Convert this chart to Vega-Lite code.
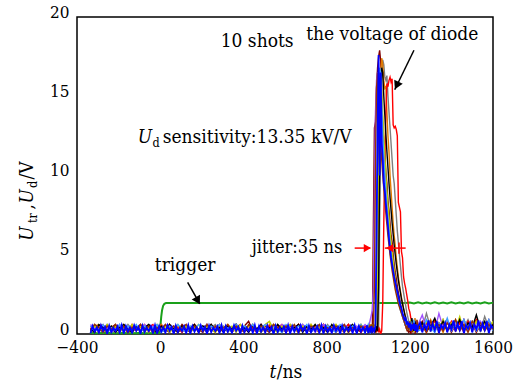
{
"$schema": "https://vega.github.io/schema/vega-lite/v6.json",
"width": 416, "height": 317,
"autosize": {"type": "none"},
"padding": {"left": 77, "top": 17, "right": 32, "bottom": 48},
"config": {"view": {"stroke": "#000000", "strokeWidth": 1.5}},
"datasets": {
"shots": [
{"t":-335,"a":0.3,"b":0.5,"c":0.2,"d":0.4,"e":0.6,"f":0.1,"g":0.3,"h":0.5,"i":0.2,"j":0.05},
{"t":-315,"a":0.6,"b":0.2,"c":0.5,"d":0.1,"e":0.3,"f":0.5,"g":0.1,"h":0.2,"i":0.6,"j":0.15},
{"t":-295,"a":0.1,"b":0.4,"c":0.6,"d":0.5,"e":0.2,"f":0.4,"g":0.6,"h":0.3,"i":0.4,"j":0.1},
{"t":-275,"a":0.5,"b":0.1,"c":0.3,"d":0.6,"e":0.5,"f":0.2,"g":0.4,"h":0.6,"i":0.1,"j":0.2},
{"t":-255,"a":0.2,"b":0.6,"c":0.1,"d":0.2,"e":0.4,"f":0.6,"g":0.2,"h":0.1,"i":0.5,"j":0.02},
{"t":-235,"a":0.4,"b":0.3,"c":0.5,"d":0.3,"e":0.1,"f":0.3,"g":0.5,"h":0.4,"i":0.3,"j":0.12},
{"t":-215,"a":0.6,"b":0.1,"c":0.4,"d":0.5,"e":0.3,"f":0.5,"g":0.1,"h":0.2,"i":0.6,"j":0.18},
{"t":-195,"a":0.2,"b":0.5,"c":0.1,"d":0.2,"e":0.6,"f":0.1,"g":0.4,"h":0.6,"i":0.2,"j":0.08},
{"t":-175,"a":0.5,"b":0.2,"c":0.6,"d":0.4,"e":0.2,"f":0.4,"g":0.6,"h":0.1,"i":0.5,"j":0.05},
{"t":-155,"a":0.1,"b":0.6,"c":0.3,"d":0.1,"e":0.5,"f":0.2,"g":0.3,"h":0.5,"i":0.1,"j":0.15},
{"t":-135,"a":0.4,"b":0.3,"c":0.5,"d":0.6,"e":0.1,"f":0.6,"g":0.1,"h":0.3,"i":0.4,"j":0.1},
{"t":-115,"a":0.3,"b":0.5,"c":0.2,"d":0.3,"e":0.4,"f":0.3,"g":0.5,"h":0.6,"i":0.2,"j":0.2},
{"t":-95,"a":0.6,"b":0.1,"c":0.4,"d":0.5,"e":0.2,"f":0.5,"g":0.2,"h":0.1,"i":0.6,"j":0.02},
{"t":-75,"a":0.2,"b":0.4,"c":0.6,"d":0.2,"e":0.6,"f":0.1,"g":0.4,"h":0.5,"i":0.3,"j":0.12},
{"t":-55,"a":0.5,"b":0.6,"c":0.1,"d":0.4,"e":0.3,"f":0.4,"g":0.6,"h":0.2,"i":0.5,"j":0.18},
{"t":-35,"a":0.1,"b":0.2,"c":0.5,"d":0.6,"e":0.5,"f":0.2,"g":0.3,"h":0.4,"i":0.1,"j":0.08},
{"t":-15,"a":0.4,"b":0.5,"c":0.3,"d":0.1,"e":0.1,"f":0.6,"g":0.1,"h":0.6,"i":0.4,"j":0.05},
{"t":5,"a":0.6,"b":0.3,"c":0.6,"d":0.5,"e":0.4,"f":0.3,"g":0.5,"h":0.1,"i":0.2,"j":0.15},
{"t":25,"a":0.3,"b":0.1,"c":0.2,"d":0.3,"e":0.6,"f":0.5,"g":0.2,"h":0.3,"i":0.6,"j":0.1},
{"t":45,"a":0.1,"b":0.6,"c":0.4,"d":0.6,"e":0.2,"f":0.1,"g":0.6,"h":0.5,"i":0.3,"j":0.2},
{"t":65,"a":0.5,"b":0.2,"c":0.1,"d":0.2,"e":0.5,"f":0.4,"g":0.3,"h":0.2,"i":0.5,"j":0.02},
{"t":85,"a":0.2,"b":0.4,"c":0.5,"d":0.4,"e":0.1,"f":0.6,"g":0.1,"h":0.6,"i":0.1,"j":0.12},
{"t":105,"a":0.6,"b":0.1,"c":0.3,"d":0.1,"e":0.4,"f":0.2,"g":0.5,"h":0.3,"i":0.4,"j":0.18},
{"t":125,"a":0.3,"b":0.5,"c":0.6,"d":0.5,"e":0.6,"f":0.5,"g":0.2,"h":0.1,"i":0.6,"j":0.08},
{"t":145,"a":0.1,"b":0.3,"c":0.2,"d":0.3,"e":0.2,"f":0.1,"g":0.4,"h":0.5,"i":0.2,"j":0.05},
{"t":165,"a":0.4,"b":0.6,"c":0.5,"d":0.6,"e":0.5,"f":0.4,"g":0.6,"h":0.2,"i":0.5,"j":0.15},
{"t":185,"a":0.2,"b":0.2,"c":0.1,"d":0.2,"e":0.3,"f":0.6,"g":0.1,"h":0.6,"i":0.3,"j":0.1},
{"t":205,"a":0.5,"b":0.5,"c":0.4,"d":0.4,"e":0.1,"f":0.2,"g":0.5,"h":0.4,"i":0.1,"j":0.2},
{"t":225,"a":0.1,"b":0.1,"c":0.6,"d":0.1,"e":0.6,"f":0.5,"g":0.3,"h":0.1,"i":0.6,"j":0.02},
{"t":245,"a":0.6,"b":0.4,"c":0.3,"d":0.5,"e":0.2,"f":0.3,"g":0.6,"h":0.5,"i":0.2,"j":0.12},
{"t":265,"a":0.3,"b":0.6,"c":0.1,"d":0.3,"e":0.4,"f":0.1,"g":0.2,"h":0.3,"i":0.5,"j":0.18},
{"t":285,"a":0.5,"b":0.2,"c":0.5,"d":0.6,"e":0.6,"f":0.6,"g":0.4,"h":0.6,"i":0.1,"j":0.08},
{"t":305,"a":0.2,"b":0.5,"c":0.2,"d":0.2,"e":0.1,"f":0.4,"g":0.1,"h":0.2,"i":0.4,"j":0.05},
{"t":325,"a":0.4,"b":0.1,"c":0.6,"d":0.5,"e":0.5,"f":0.2,"g":0.5,"h":0.4,"i":0.6,"j":0.15},
{"t":345,"a":0.1,"b":0.4,"c":0.3,"d":0.1,"e":0.3,"f":0.5,"g":0.3,"h":0.1,"i":0.2,"j":0.1},
{"t":365,"a":0.6,"b":0.6,"c":0.5,"d":0.4,"e":0.6,"f":0.1,"g":0.6,"h":0.6,"i":0.5,"j":0.2},
{"t":385,"a":0.3,"b":0.2,"c":0.1,"d":0.6,"e":0.2,"f":0.6,"g":0.2,"h":0.3,"i":0.3,"j":0.02},
{"t":405,"a":0.5,"b":0.5,"c":0.4,"d":0.2,"e":0.4,"f":0.3,"g":0.4,"h":0.5,"i":0.1,"j":0.12},
{"t":425,"a":0.8,"b":0.3,"c":0.2,"d":0.5,"e":0.1,"f":0.5,"g":0.1,"h":0.2,"i":0.6,"j":0.18},
{"t":445,"a":0.2,"b":0.6,"c":0.6,"d":0.3,"e":0.5,"f":0.2,"g":0.5,"h":0.6,"i":0.4,"j":0.08},
{"t":465,"a":0.4,"b":0.1,"c":0.3,"d":0.1,"e":0.2,"f":0.4,"g":0.3,"h":0.1,"i":0.2,"j":0.05},
{"t":485,"a":0.1,"b":0.4,"c":0.5,"d":0.6,"e":0.6,"f":0.1,"g":0.6,"h":0.4,"i":0.5,"j":0.15},
{"t":505,"a":0.5,"b":0.2,"c":0.1,"d":0.3,"e":0.3,"f":0.6,"g":0.2,"h":0.6,"i":0.3,"j":0.1},
{"t":525,"a":0.3,"b":0.5,"c":0.6,"d":0.5,"e":0.1,"f":0.8,"g":0.4,"h":0.2,"i":0.1,"j":0.2},
{"t":545,"a":0.6,"b":0.3,"c":0.2,"d":0.2,"e":0.5,"f":0.3,"g":0.1,"h":0.5,"i":0.6,"j":0.02},
{"t":565,"a":0.2,"b":0.6,"c":0.4,"d":0.4,"e":0.2,"f":0.1,"g":0.6,"h":0.3,"i":0.4,"j":0.12},
{"t":585,"a":0.4,"b":0.1,"c":0.5,"d":0.6,"e":0.6,"f":0.5,"g":0.3,"h":0.1,"i":0.2,"j":0.18},
{"t":605,"a":0.1,"b":0.4,"c":0.2,"d":0.1,"e":0.4,"f":0.2,"g":0.5,"h":0.6,"i":0.5,"j":0.08},
{"t":625,"a":0.5,"b":0.2,"c":0.6,"d":0.5,"e":0.1,"f":0.6,"g":0.2,"h":0.4,"i":0.3,"j":0.05},
{"t":645,"a":0.3,"b":0.5,"c":0.3,"d":0.3,"e":0.5,"f":0.4,"g":0.4,"h":0.2,"i":0.6,"j":0.15},
{"t":665,"a":0.6,"b":0.3,"c":0.1,"d":0.6,"e":0.3,"f":0.1,"g":0.6,"h":0.5,"i":0.1,"j":0.1},
{"t":685,"a":0.2,"b":0.6,"c":0.5,"d":0.2,"e":0.6,"f":0.5,"g":0.1,"h":0.3,"i":0.4,"j":0.2},
{"t":705,"a":0.4,"b":0.1,"c":0.2,"d":0.4,"e":0.2,"f":0.3,"g":0.5,"h":0.6,"i":0.2,"j":0.02},
{"t":725,"a":0.1,"b":0.4,"c":0.6,"d":0.1,"e":0.5,"f":0.6,"g":0.3,"h":0.1,"i":0.5,"j":0.12},
{"t":745,"a":0.5,"b":0.2,"c":0.3,"d":0.5,"e":0.1,"f":0.2,"g":0.6,"h":0.4,"i":0.3,"j":0.18},
{"t":765,"a":0.3,"b":0.5,"c":0.1,"d":0.3,"e":0.4,"f":0.4,"g":0.2,"h":0.6,"i":0.6,"j":0.08},
{"t":785,"a":0.6,"b":0.3,"c":0.5,"d":0.6,"e":0.6,"f":0.1,"g":0.4,"h":0.2,"i":0.1,"j":0.05},
{"t":805,"a":0.2,"b":0.6,"c":0.2,"d":0.2,"e":0.3,"f":0.5,"g":0.1,"h":0.5,"i":0.4,"j":0.15},
{"t":825,"a":0.4,"b":0.1,"c":0.4,"d":0.4,"e":0.1,"f":0.3,"g":0.6,"h":0.3,"i":0.2,"j":0.1},
{"t":845,"a":0.1,"b":0.4,"c":0.6,"d":0.1,"e":0.5,"f":0.6,"g":0.3,"h":0.1,"i":0.5,"j":0.2},
{"t":865,"a":0.5,"b":0.2,"c":0.3,"d":0.5,"e":0.2,"f":0.2,"g":0.5,"h":0.6,"i":0.3,"j":0.02},
{"t":885,"a":0.3,"b":0.5,"c":0.1,"d":0.3,"e":0.6,"f":0.4,"g":0.2,"h":0.4,"i":0.6,"j":0.12},
{"t":905,"a":0.6,"b":0.3,"c":0.5,"d":0.6,"e":0.4,"f":0.1,"g":0.4,"h":0.2,"i":0.1,"j":0.18},
{"t":925,"a":0.2,"b":0.6,"c":0.2,"d":0.2,"e":0.1,"f":0.5,"g":0.6,"h":0.5,"i":0.4,"j":0.08},
{"t":945,"a":0.4,"b":0.1,"c":0.4,"d":0.4,"e":0.5,"f":0.3,"g":0.1,"h":0.3,"i":0.2,"j":0.05},
{"t":965,"a":0.1,"b":0.4,"c":0.6,"d":0.1,"e":0.3,"f":0.6,"g":0.5,"h":0.6,"i":0.5,"j":0.15},
{"t":985,"a":0.5,"b":0.2,"c":0.3,"d":0.5,"e":0.6,"f":0.2,"g":0.3,"h":0.1,"i":0.3,"j":0.1},
{"t":1000,"a":0.3,"b":0.2,"c":0.5,"d":0.4,"e":0.4,"f":0.2,"g":0.3,"h":0.6,"i":0.2,"j":0.05},
{"t":1005,"a":0.5,"b":0.4,"c":0.2,"d":0.1,"e":0.6,"f":0.5,"g":0.1,"h":0.3,"i":0.5,"j":0.4},
{"t":1010,"a":0.2,"b":0.6,"c":0.4,"d":0.5,"e":0.9,"f":0.3,"g":0.5,"h":0.1,"i":0.3,"j":0.2},
{"t":1015,"a":0.4,"b":0.1,"c":0.6,"d":0.3,"e":1.2,"f":0.1,"g":0.2,"h":0.4,"i":0.6,"j":0.5},
{"t":1020,"a":0.3,"b":0.5,"c":0.1,"d":0.2,"e":1.5,"f":0.6,"g":0.4,"h":0.2,"i":0.1,"j":0.05},
{"t":1025,"a":7,"b":0.3,"c":0.3,"d":0.6,"e":3,"f":0.4,"g":0.6,"h":0.5,"i":0.4,"j":0.4},
{"t":1030,"a":13,"b":0.2,"c":0.5,"d":0.1,"e":9,"f":0.2,"g":0.3,"h":0.3,"i":3,"j":0.2},
{"t":1035,"a":13.4,"b":0.5,"c":0.2,"d":0.4,"e":14,"f":0.5,"g":0.1,"h":0.6,"i":11,"j":0.5},
{"t":1040,"a":15.5,"b":0.4,"c":0.4,"d":0.2,"e":16,"f":0.3,"g":0.5,"h":4,"i":15.5,"j":6},
{"t":1045,"a":16.8,"b":0.2,"c":0.3,"d":0.5,"e":16.5,"f":5,"g":0.2,"h":11,"i":16.5,"j":13},
{"t":1050,"a":17.5,"b":0.3,"c":8,"d":0.1,"e":16.2,"f":12,"g":3,"h":15,"i":13,"j":17.6},
{"t":1055,"a":17.9,"b":7,"c":14,"d":0.3,"e":15,"f":15.5,"g":10,"h":16.8,"i":10.2,"j":10},
{"t":1060,"a":17.2,"b":13,"c":16.5,"d":0,"e":13.5,"f":16,"g":15,"h":16.5,"i":12,"j":16.5},
{"t":1065,"a":15,"b":16,"c":17.4,"d":0.2,"e":12.5,"f":15.2,"g":16.8,"h":14.5,"i":11,"j":12},
{"t":1070,"a":13,"b":17.3,"c":17,"d":2,"e":11.5,"f":13.8,"g":16.5,"h":12.5,"i":10,"j":11},
{"t":1075,"a":12.2,"b":17,"c":16,"d":7,"e":10.5,"f":12.5,"g":15,"h":11.2,"i":9.2,"j":9.5},
{"t":1080,"a":11.5,"b":16.2,"c":15.5,"d":11,"e":9.6,"f":11.2,"g":13.8,"h":10,"i":8.4,"j":9},
{"t":1085,"a":10.2,"b":16,"c":15.6,"d":14,"e":8.8,"f":10,"g":12.6,"h":9,"i":7.6,"j":8.2},
{"t":1090,"a":9.5,"b":16.3,"c":14,"d":15.8,"e":8,"f":9,"g":11.5,"h":8,"i":6.9,"j":7.5},
{"t":1095,"a":8.4,"b":15,"c":12.5,"d":15.6,"e":7.2,"f":8.1,"g":10.5,"h":7.2,"i":6.2,"j":6.8},
{"t":1100,"a":7.8,"b":14,"c":11.5,"d":16,"e":6.5,"f":7.3,"g":9.5,"h":6.4,"i":5.6,"j":6},
{"t":1105,"a":7,"b":13,"c":10,"d":16.2,"e":5.8,"f":6.5,"g":8.6,"h":5.7,"i":5,"j":5.4},
{"t":1110,"a":6.2,"b":12,"c":9,"d":15.9,"e":5.2,"f":5.8,"g":7.8,"h":5.1,"i":4.5,"j":4.8},
{"t":1115,"a":5.8,"b":11,"c":8,"d":16.1,"e":4.6,"f":5.2,"g":7,"h":4.5,"i":4,"j":4.4},
{"t":1120,"a":5,"b":10,"c":7,"d":13.2,"e":4.1,"f":4.6,"g":6.3,"h":4,"i":3.6,"j":4},
{"t":1125,"a":4.4,"b":9.5,"c":6.2,"d":13,"e":3.6,"f":4,"g":5.6,"h":3.5,"i":3.2,"j":3.6},
{"t":1130,"a":3.9,"b":8.5,"c":5.6,"d":13.1,"e":3.2,"f":3.5,"g":5,"h":3.1,"i":2.8,"j":3.3},
{"t":1135,"a":3.5,"b":7.5,"c":4.8,"d":12.9,"e":2.8,"f":3,"g":4.4,"h":2.7,"i":2.5,"j":3},
{"t":1140,"a":3,"b":6.5,"c":4.2,"d":12.5,"e":2.5,"f":2.6,"g":3.9,"h":2.4,"i":2.2,"j":2.7},
{"t":1145,"a":2.6,"b":5.8,"c":3.6,"d":8.3,"e":2.2,"f":2.3,"g":3.4,"h":2.1,"i":1.9,"j":2.4},
{"t":1150,"a":2.3,"b":5,"c":3.1,"d":8,"e":1.9,"f":2,"g":3,"h":1.8,"i":1.7,"j":2.1},
{"t":1155,"a":1.9,"b":4.3,"c":2.7,"d":7.7,"e":1.6,"f":1.7,"g":2.6,"h":1.5,"i":1.5,"j":1.8},
{"t":1160,"a":1.6,"b":3.6,"c":2.3,"d":5.2,"e":1.4,"f":1.4,"g":2.2,"h":1.3,"i":1.3,"j":1.6},
{"t":1165,"a":1.2,"b":3,"c":2,"d":4.8,"e":1.1,"f":1.2,"g":1.9,"h":1.1,"i":1.1,"j":1.3},
{"t":1170,"a":1,"b":2.6,"c":1.6,"d":3.6,"e":0.9,"f":1,"g":1.6,"h":0.9,"i":0.9,"j":1.1},
{"t":1175,"a":0.7,"b":2.2,"c":1.3,"d":3.2,"e":0.7,"f":0.8,"g":1.3,"h":0.7,"i":0.7,"j":0.9},
{"t":1180,"a":0.5,"b":1.8,"c":1,"d":2.9,"e":0.5,"f":0.6,"g":1,"h":0.5,"i":0.5,"j":1},
{"t":1185,"a":0.3,"b":1.4,"c":0.8,"d":2.5,"e":0.8,"f":0.4,"g":0.8,"h":0.9,"i":0.3,"j":0.6},
{"t":1190,"a":0.2,"b":1.1,"c":0.6,"d":2.1,"e":0.3,"f":0.7,"g":0.6,"h":0.3,"i":0.6,"j":0.8},
{"t":1195,"a":0.1,"b":0.8,"c":0.5,"d":1.6,"e":0.6,"f":0.2,"g":0.4,"h":0.7,"i":0.2,"j":0.4},
{"t":1200,"a":0.3,"b":0.6,"c":0.3,"d":1.4,"e":0.2,"f":0.5,"g":0.7,"h":0.4,"i":0.8,"j":0.7},
{"t":1205,"a":0,"b":0.4,"c":0.7,"d":1,"e":0.9,"f":0.9,"g":0.3,"h":0.8,"i":0.4,"j":0.2},
{"t":1210,"a":0.4,"b":0.8,"c":0.2,"d":0.7,"e":0.4,"f":0.3,"g":1,"h":0.2,"i":0.1,"j":0.6},
{"t":1215,"a":0.1,"b":0.3,"c":0.8,"d":0.4,"e":0.7,"f":0.6,"g":0.5,"h":0.6,"i":0.7,"j":0.3},
{"t":1220,"a":0.6,"b":0.7,"c":0.4,"d":0.6,"e":0.1,"f":0.1,"g":0.2,"h":0.9,"i":0.3,"j":0.7},
{"t":1225,"a":0,"b":0.2,"c":1,"d":0.2,"e":0.5,"f":0.7,"g":0.8,"h":0.3,"i":0.6,"j":0.2},
{"t":1230,"a":0.5,"b":0.9,"c":0.3,"d":0.8,"e":0.8,"f":0.4,"g":0.4,"h":0.5,"i":0.2,"j":0.6},
{"t":1235,"a":0.2,"b":0.4,"c":0.6,"d":0.3,"e":0.2,"f":0.2,"g":0.6,"h":0.7,"i":0.9,"j":0.1},
{"t":1240,"a":0.4,"b":0.6,"c":0.2,"d":0.5,"e":0.6,"f":0.5,"g":0.3,"h":0.2,"i":0.4,"j":0.5},
{"t":1260,"a":0.8,"b":0.3,"c":0.6,"d":0.2,"e":1.2,"f":0.4,"g":0.7,"h":0.3,"i":0.5,"j":0.1},
{"t":1280,"a":0.1,"b":1.3,"c":0.2,"d":0.7,"e":0.3,"f":0.8,"g":0.2,"h":0.9,"i":0.1,"j":0.3},
{"t":1300,"a":0.6,"b":0.4,"c":0.9,"d":0.3,"e":0.7,"f":0.2,"g":0.5,"h":0.4,"i":0.8,"j":0.15},
{"t":1320,"a":0.2,"b":0.8,"c":0.3,"d":0.9,"e":0.2,"f":0.6,"g":1,"h":0.1,"i":0.3,"j":0.25},
{"t":1340,"a":0.7,"b":0.2,"c":0.7,"d":0.1,"e":1.3,"f":0.3,"g":0.3,"h":0.7,"i":0.6,"j":0.05},
{"t":1360,"a":0.3,"b":0.9,"c":0.1,"d":0.6,"e":0.4,"f":0.9,"g":0.8,"h":0.3,"i":0.2,"j":0.35},
{"t":1380,"a":0.8,"b":0.3,"c":0.8,"d":0.3,"e":0.8,"f":0.2,"g":0.2,"h":1,"i":0.7,"j":0.1},
{"t":1400,"a":0.1,"b":0.7,"c":0.4,"d":0.8,"e":0.2,"f":0.7,"g":0.6,"h":0.2,"i":0.3,"j":0.3},
{"t":1420,"a":0.6,"b":0.2,"c":0.9,"d":0.2,"e":0.6,"f":0.3,"g":0.3,"h":0.8,"i":0.9,"j":0.15},
{"t":1440,"a":0.3,"b":0.8,"c":0.2,"d":0.7,"e":0.3,"f":1.1,"g":0.9,"h":0.4,"i":0.2,"j":0.25},
{"t":1460,"a":0.9,"b":0.4,"c":0.6,"d":0.1,"e":0.9,"f":0.2,"g":0.2,"h":0.9,"i":0.6,"j":0.05},
{"t":1480,"a":0.2,"b":0.9,"c":0.3,"d":0.8,"e":0.2,"f":0.6,"g":0.7,"h":0.3,"i":0.1,"j":0.35},
{"t":1500,"a":0.7,"b":0.3,"c":0.8,"d":0.4,"e":0.7,"f":0.3,"g":0.4,"h":0.8,"i":0.8,"j":0.1},
{"t":1520,"a":0.1,"b":0.8,"c":0.2,"d":0.9,"e":0.3,"f":0.8,"g":1.2,"h":0.2,"i":0.4,"j":0.3},
{"t":1540,"a":0.6,"b":0.2,"c":0.7,"d":0.3,"e":0.8,"f":0.2,"g":0.3,"h":0.7,"i":0.7,"j":0.15},
{"t":1560,"a":0.3,"b":1.1,"c":0.3,"d":0.7,"e":0.4,"f":0.7,"g":0.8,"h":0.3,"i":0.2,"j":0.25},
{"t":1580,"a":0.8,"b":0.4,"c":0.9,"d":0.2,"e":0.9,"f":0.3,"g":0.2,"h":0.9,"i":0.6,"j":0.05},
{"t":1600,"a":0.2,"b":0.8,"c":0.3,"d":0.6,"e":0.3,"f":0.8,"g":0.6,"h":0.2,"i":0.3,"j":0.35},
{"t":-325,"j":0.5},{"t":-305,"j":0.42},{"t":-285,"j":0.55},{"t":-265,"j":0.45},{"t":-245,"j":0.52},{"t":-225,"j":0.4},{"t":-205,"j":0.48},{"t":-185,"j":0.55},
{"t":-165,"j":0.5},{"t":-145,"j":0.42},{"t":-125,"j":0.55},{"t":-105,"j":0.45},{"t":-85,"j":0.52},{"t":-65,"j":0.4},{"t":-45,"j":0.48},{"t":-25,"j":0.55},
{"t":-5,"j":0.5},{"t":15,"j":0.42},{"t":35,"j":0.55},{"t":55,"j":0.45},{"t":75,"j":0.52},{"t":95,"j":0.4},{"t":115,"j":0.48},{"t":135,"j":0.55},
{"t":155,"j":0.5},{"t":175,"j":0.42},{"t":195,"j":0.55},{"t":215,"j":0.45},{"t":235,"j":0.52},{"t":255,"j":0.4},{"t":275,"j":0.48},{"t":295,"j":0.55},
{"t":315,"j":0.5},{"t":335,"j":0.42},{"t":355,"j":0.55},{"t":375,"j":0.45},{"t":395,"j":0.52},{"t":415,"j":0.4},{"t":435,"j":0.48},{"t":455,"j":0.55},
{"t":475,"j":0.5},{"t":495,"j":0.42},{"t":515,"j":0.55},{"t":535,"j":0.45},{"t":555,"j":0.52},{"t":575,"j":0.4},{"t":595,"j":0.48},{"t":615,"j":0.55},
{"t":635,"j":0.5},{"t":655,"j":0.42},{"t":675,"j":0.55},{"t":695,"j":0.45},{"t":715,"j":0.52},{"t":735,"j":0.4},{"t":755,"j":0.48},{"t":775,"j":0.55},
{"t":795,"j":0.5},{"t":815,"j":0.42},{"t":835,"j":0.55},{"t":855,"j":0.45},{"t":875,"j":0.52},{"t":895,"j":0.4},{"t":915,"j":0.48},{"t":935,"j":0.55},
{"t":955,"j":0.5},{"t":975,"j":0.42},{"t":995,"j":0.55},
{"t":1250,"j":0.7},{"t":1270,"j":0.6},{"t":1290,"j":0.85},{"t":1310,"j":0.65},{"t":1330,"j":0.8},{"t":1350,"j":0.55},
{"t":1370,"j":0.7},{"t":1390,"j":0.6},{"t":1410,"j":0.85},{"t":1430,"j":0.65},{"t":1450,"j":0.8},{"t":1470,"j":0.55},
{"t":1490,"j":0.7},{"t":1510,"j":0.6},{"t":1530,"j":0.85},{"t":1550,"j":0.65},{"t":1570,"j":0.8},{"t":1590,"j":0.55}
],
"trig": [
{"t":-335,"v":0.06},{"t":-300,"v":0.05},{"t":-260,"v":0.08},{"t":-220,"v":0.05},{"t":-180,"v":0.07},{"t":-140,"v":0.04},{"t":-100,"v":0.07},{"t":-60,"v":0.05},{"t":-20,"v":0.07},{"t":-3,"v":0.08},{"t":1,"v":0.5},{"t":5,"v":1.1},{"t":9,"v":1.5},{"t":14,"v":1.78},{"t":20,"v":1.9},{"t":28,"v":1.95},{"t":60,"v":1.96},{"t":150,"v":1.95},{"t":300,"v":1.96},{"t":500,"v":1.95},{"t":700,"v":1.96},{"t":900,"v":1.95},{"t":1100,"v":1.96},{"t":1180,"v":1.95},{"t":1200,"v":1.99},{"t":1220,"v":1.92},{"t":1240,"v":2.0},{"t":1260,"v":1.93},{"t":1280,"v":1.99},{"t":1300,"v":1.92},{"t":1320,"v":2.0},{"t":1340,"v":1.93},{"t":1360,"v":1.99},{"t":1380,"v":1.92},{"t":1400,"v":2.0},{"t":1420,"v":1.93},{"t":1440,"v":1.99},{"t":1460,"v":1.92},{"t":1480,"v":2.0},{"t":1500,"v":1.93},{"t":1520,"v":1.99},{"t":1540,"v":1.92},{"t":1560,"v":2.0},{"t":1580,"v":1.93},{"t":1600,"v":1.98}
]
},
"encoding": {
"x": {"field": "t", "type": "quantitative", "scale": {"domain": [-400, 1600], "nice": false, "zero": false},
 "axis": {"values": [-400, 0, 400, 800, 1200, 1600], "format": "d", "title": null, "grid": false, "domain": false, "ticks": false, "labelFont": "DejaVu Serif Condensed, DejaVu Serif", "labelFontSize": 17, "labelColor": "#000000", "labelPadding": 5, "labelFlush": false, "labelOverlap": false}},
"y": {"field": "v", "type": "quantitative", "scale": {"domain": [0, 20], "nice": false, "zero": false},
 "axis": {"values": [0, 5, 10, 15, 20], "format": "d", "title": null, "grid": false, "domain": false, "ticks": false, "labelFont": "DejaVu Serif Condensed, DejaVu Serif", "labelFontSize": 17, "labelColor": "#000000", "labelPadding": 8, "labelOffset": -5, "labelFlush": false, "labelOverlap": false}}
},
"layer": [
{"data": {"name": "trig"}, "mark": {"type": "line", "color": "#1aa01a", "strokeWidth": 2}, "encoding": {}},
{"data": {"name": "shots"}, "transform": [{"fold": ["a","b","c","d","e","f","g","h","i","j"], "as": ["shot", "v"]}, {"filter": "datum.shot !== 'j' && isValid(datum.v)"}],
 "mark": {"type": "line", "strokeWidth": 1.4, "clip": true},
 "encoding": {"color": {"field": "shot", "type": "nominal", "scale": {"domain": ["a","b","c","d","e","f","g","h","i"], "range": ["#800000","#7f7f7f","#e07b00","#ff0000","#a050ff","#bfd000","#000000","#40a0ff","#993300"]}, "legend": null}}},
{"data": {"name": "shots"}, "transform": [{"fold": ["a","b","c","d","e","f","g","h","i","j"], "as": ["shot", "v"]}, {"filter": "datum.shot === 'j' && isValid(datum.v)"}],
 "mark": {"type": "line", "strokeWidth": 1.8, "color": "#0000ff", "clip": true}, "encoding": {}},
{"data": {"values": [{"t": 1220, "v": 17.9, "t2": 1127.5, "v2": 15.41}, {"t": 132, "v": 3.26, "t2": 190, "v2": 1.91}]},
 "mark": {"type": "rule", "color": "#000000", "strokeWidth": 1.5},
 "encoding": {"x2": {"field": "t2"}, "y2": {"field": "v2"}}},
{"data": {"values": [{"t": 1137, "v": 15.68}]}, "mark": {"type": "point", "shape": "triangle-up", "filled": true, "color": "#000000", "size": 90, "angle": 206, "opacity": 1}, "encoding": {}},
{"data": {"values": [{"t": 181, "v": 2.1}]}, "mark": {"type": "point", "shape": "triangle-up", "filled": true, "color": "#000000", "size": 90, "angle": 151, "opacity": 1}, "encoding": {}},
{"data": {"values": [{"t": 935, "v": 5.42, "t2": 1010, "v2": 5.42}, {"t": 1180, "v": 5.42, "t2": 1080, "v2": 5.42}, {"t": 1148, "v": 5.77, "t2": 1148, "v2": 5.07}]},
 "mark": {"type": "rule", "color": "#ff0000", "strokeWidth": 1.5},
 "encoding": {"x2": {"field": "t2"}, "y2": {"field": "v2"}}},
{"data": {"values": [{"t": 996, "v": 5.42}]}, "mark": {"type": "point", "shape": "triangle-right", "filled": true, "color": "#ff0000", "size": 70, "opacity": 1}, "encoding": {}},
{"data": {"values": [{"t": 1103, "v": 5.42}]}, "mark": {"type": "point", "shape": "triangle-left", "filled": true, "color": "#ff0000", "size": 70, "opacity": 1}, "encoding": {}},
{"data": {"values": [{"t": 466, "v": 18.12, "label": "10 shots"}, {"t": 1115.5, "v": 18.57, "label": "the voltage of diode"}, {"t": 120, "v": 3.96, "label": "trigger"}]},
 "mark": {"type": "text", "font": "DejaVu Serif Condensed, DejaVu Serif", "fontSize": 19, "align": "center", "baseline": "alphabetic", "color": "#000000"},
 "encoding": {"text": {"field": "label"}}},
{"data": {"values": [{"t": 440, "v": 5.09, "label": "jitter:35 ns"}]},
 "mark": {"type": "text", "font": "DejaVu Serif Condensed, DejaVu Serif", "fontSize": 18, "align": "left", "baseline": "alphabetic", "color": "#000000"},
 "encoding": {"text": {"field": "label"}}},
{"data": {"values": [{"t": 12, "v": 12.02, "label": "sensitivity:13.35 kV/V"}, {"t": 560, "v": -2.76, "label": "/ns"}]},
 "mark": {"type": "text", "font": "DejaVu Serif Condensed, DejaVu Serif", "fontSize": 19, "align": "left", "baseline": "alphabetic", "color": "#000000"},
 "encoding": {"text": {"field": "label"}}},
{"data": {"values": [{"t": -108, "v": 12.02, "label": "U"}, {"t": 526, "v": -2.76, "label": "t"}]},
 "mark": {"type": "text", "font": "DejaVu Serif Condensed, DejaVu Serif", "fontSize": 19, "fontStyle": "italic", "align": "left", "baseline": "alphabetic", "color": "#000000"},
 "encoding": {"text": {"field": "label"}}},
{"data": {"values": [{"t": -36.5, "v": 11.8, "label": "d"}]},
 "mark": {"type": "text", "font": "DejaVu Serif Condensed, DejaVu Serif", "fontSize": 12.5, "align": "left", "baseline": "alphabetic", "color": "#000000"},
 "encoding": {"text": {"field": "label"}}},
{"data": {"values": [{"t": -610, "v": 5.89, "label": "U"}, {"t": -610, "v": 8.23, "label": "U"}]},
 "mark": {"type": "text", "font": "DejaVu Serif Condensed, DejaVu Serif", "fontSize": 19, "fontStyle": "italic", "align": "left", "baseline": "alphabetic", "angle": 270, "color": "#000000"},
 "encoding": {"text": {"field": "label"}}},
{"data": {"values": [{"t": -610, "v": 7.85, "label": ","}, {"t": -610, "v": 9.75, "label": "/V"}]},
 "mark": {"type": "text", "font": "DejaVu Serif Condensed, DejaVu Serif", "fontSize": 19, "align": "left", "baseline": "alphabetic", "angle": 270, "color": "#000000"},
 "encoding": {"text": {"field": "label"}}},
{"data": {"values": [{"t": -591, "v": 7.0, "label": "tr"}, {"t": -590, "v": 9.21, "label": "d"}]},
 "mark": {"type": "text", "font": "DejaVu Serif Condensed, DejaVu Serif", "fontSize": 12.5, "align": "left", "baseline": "alphabetic", "angle": 270, "color": "#000000"},
 "encoding": {"text": {"field": "label"}}}
]
}
